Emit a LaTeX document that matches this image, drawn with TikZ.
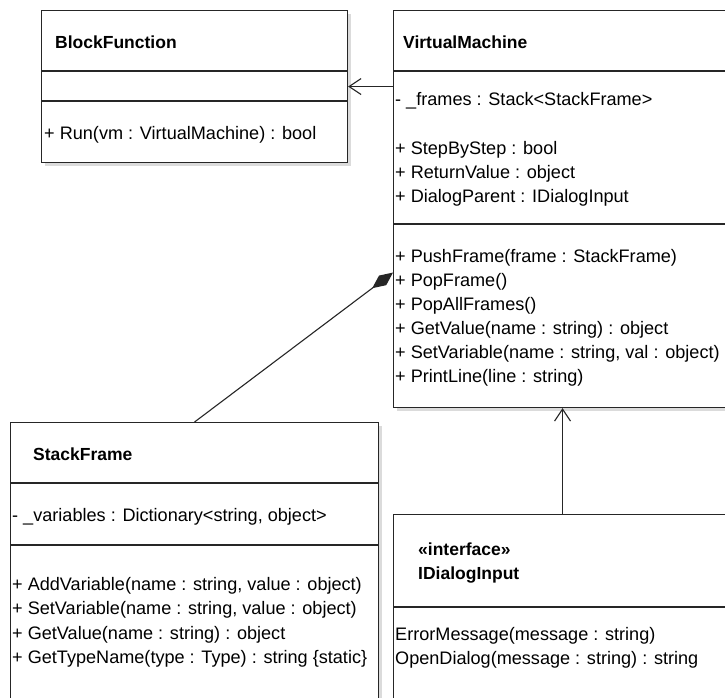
\documentclass[tikz,border=0pt]{standalone}
\usepackage{fontspec}
\setmainfont{Liberation Sans}
\usetikzlibrary{arrows.meta,shadows}
\begin{document}
\begin{tikzpicture}[x=1pt,y=-1pt,
  box/.style={draw=black!85, line width=1.1pt, fill=white, anchor=north west, inner sep=0pt, rectangle,
    drop shadow={shadow xshift=3.5pt, shadow yshift=-3.5pt, fill=black!14, opacity=1}},
  sep/.style={draw=black!85, line width=1.1pt},
  txt/.style={anchor=base west, inner sep=0pt, font=\fontsize{18.1}{20}\selectfont},
  ttl/.style={anchor=base west, inner sep=0pt, font=\fontsize{17.5}{20}\selectfont\bfseries},
  conn/.style={draw=black!85, line width=1.1pt},
  openarr/.style={conn, -{Straight Barb[length=12pt,width=16pt,line width=1.1pt]}},
  comp/.style={conn, -{Diamond[length=26pt,width=12pt]}},
]
\clip (0,0) rectangle (725,697);
\fill[white] (0,0) rectangle (725,697);

% boxes
\node[box, minimum width=306pt, minimum height=152pt] (bf) at (41,10) {};
\node[box, minimum width=338pt, minimum height=397pt] (vm) at (393,10) {};
\node[box, minimum width=368pt, minimum height=300pt] (sf) at (10,422) {};
\node[box, minimum width=338pt, minimum height=210pt] (idi) at (393,514) {};

% dividers
\draw[sep] ([yshift=-61pt]bf.north west) -- ([yshift=-61pt]bf.north east);
\draw[sep] ([yshift=-91pt]bf.north west) -- ([yshift=-91pt]bf.north east);
\draw[sep] ([yshift=-61pt]vm.north west) -- ([yshift=-61pt]vm.north east);
\draw[sep] ([yshift=-214pt]vm.north west) -- ([yshift=-214pt]vm.north east);
\draw[sep] ([yshift=-61pt]sf.north west) -- ([yshift=-61pt]sf.north east);
\draw[sep] ([yshift=-123pt]sf.north west) -- ([yshift=-123pt]sf.north east);
\draw[sep] ([yshift=-93pt]idi.north west) -- ([yshift=-93pt]idi.north east);

% BlockFunction
\node[ttl] (bft) at (55,48) {BlockFunction};
\node[txt] (bfm) at (44,139) {+ Run(vm : VirtualMachine) : bool};

% VirtualMachine
\node[ttl] (vmt) at (403,48) {VirtualMachine};
\node[txt] (vma1) at (395,105) {- \_frames : Stack<StackFrame>};
\node[txt] (vma2) at (395,154) {+ StepByStep : bool};
\node[txt] (vma3) at (395,178) {+ ReturnValue : object};
\node[txt] (vma4) at (395,202) {+ DialogParent : IDialogInput};
\node[txt] (vmm1) at (395,262) {+ PushFrame(frame : StackFrame)};
\node[txt] (vmm2) at (395,286) {+ PopFrame()};
\node[txt] (vmm3) at (395,310) {+ PopAllFrames()};
\node[txt] (vmm4) at (395,334) {+ GetValue(name : string) : object};
\node[txt] (vmm5) at (395,358) {+ SetVariable(name : string, val : object)};
\node[txt] (vmm6) at (395,382) {+ PrintLine(line : string)};

% StackFrame
\node[ttl] (sft) at (33,460) {StackFrame};
\node[txt] (sfa1) at (12,521) {- \_variables : Dictionary<string, object>};
\node[txt] (sfm1) at (12,590) {+ AddVariable(name : string, value : object)};
\node[txt] (sfm2) at (12,614.5) {+ SetVariable(name : string, value : object)};
\node[txt] (sfm3) at (12,639) {+ GetValue(name : string) : object};
\node[txt] (sfm4) at (12,663.5) {+ GetTypeName(type : Type) : string \{static\}};

% IDialogInput
\node[ttl] (idis) at (418,555) {«interface»};
\node[ttl] (idit) at (418,579) {IDialogInput};
\node[txt] (idim1) at (395,640) {ErrorMessage(message : string)};
\node[txt] (idim2) at (395,664) {OpenDialog(message : string) : string};

% connectors
\draw[openarr] (vm.west |- bf.east) -- (bf.east);
\draw[openarr] (idi.north) -- (vm.south);
\draw[comp] (sf.north) -- ([yshift=-63.5pt]vm.west);
\end{tikzpicture}
\end{document}
